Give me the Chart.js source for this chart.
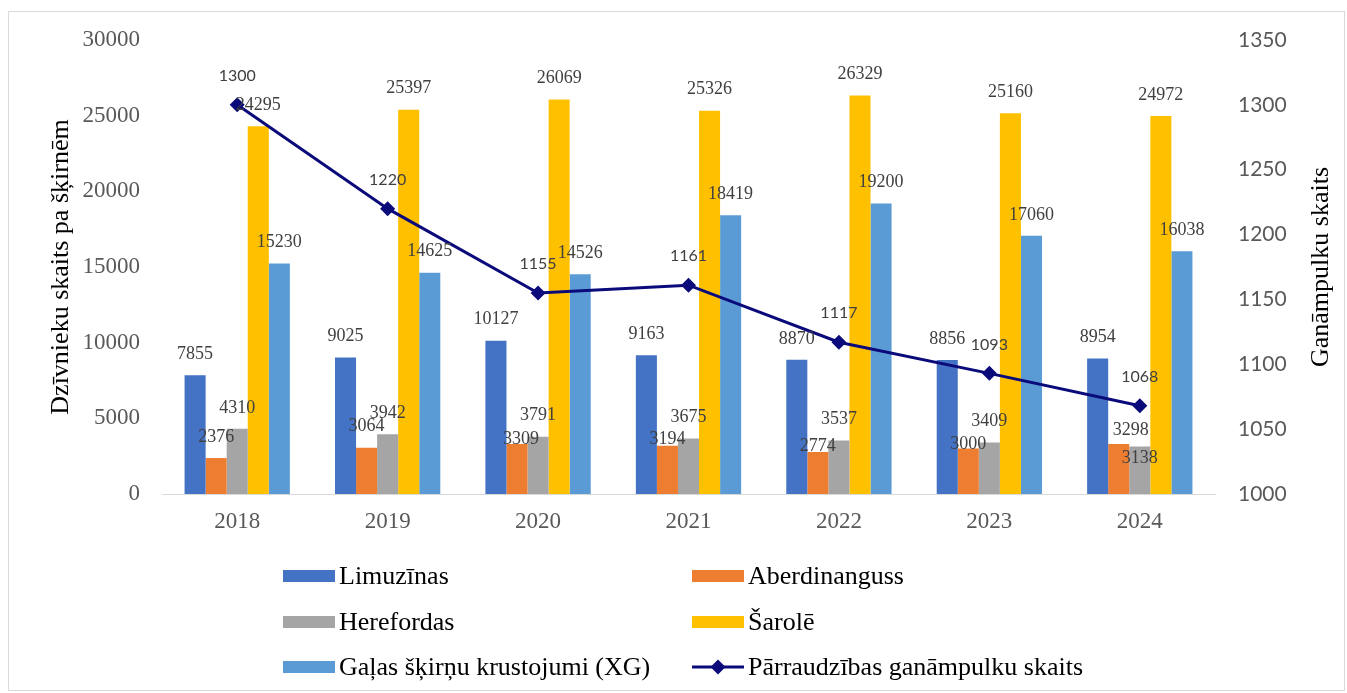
<!DOCTYPE html>
<html>
<head>
<meta charset="utf-8">
<script src="https://cdn.jsdelivr.net/npm/chart.js@4.4.1/dist/chart.umd.min.js"></script>
<style>
  html, body { margin: 0; padding: 0; background: #fff; overflow: hidden; }
  #wrap { position: relative; width: 1347px; height: 693px; }
</style>
</head>
<body>
<div id="wrap"><canvas id="c"></canvas></div>
<script>
const categories = ['2018', '2019', '2020', '2021', '2022', '2023', '2024'];
const seriesNames = ['Limuzīnas', 'Aberdinanguss', 'Herefordas', 'Šarolē', 'Gaļas šķirņu krustojumi (XG)', 'Pārraudzības ganāmpulku skaits'];
const limuzinas = [7855, 9025, 10127, 9163, 8870, 8856, 8954];
const aberdinanguss = [2376, 3064, 3309, 3194, 2774, 3000, 3298];
const herefordas = [4310, 3942, 3791, 3675, 3537, 3409, 3138];
const sarole = [24295, 25397, 26069, 25326, 26329, 25160, 24972];
const xg = [15230, 14625, 14526, 18419, 19200, 17060, 16038];
const ganampulki = [1300, 1220, 1155, 1161, 1117, 1093, 1068];
const leftTitle = 'Dzīvnieku skaits pa šķirnēm';
const rightTitle = 'Ganāmpulku skaits';

const SERIF = "'Liberation Serif', 'Times New Roman', serif";
const SANS = "Lato, 'Liberation Sans', sans-serif";
const LINE_COLOR = '#0a0a7a';

// manual nudges of some data labels (as in the original), keyed by series index
const labelNudges = {
  1: { 2: [4, 16], 3: [0, 15], 4: [0, 15], 5: [0, 17], 6: [12, 7] },
  2: { 6: [0, 33] }
};

const borderPlugin = {
  id: 'frame',
  beforeDraw(chart) {
    const ctx = chart.ctx;
    ctx.save();
    ctx.fillStyle = '#fff';
    ctx.fillRect(0, 0, chart.width, chart.height);
    ctx.strokeStyle = '#d9d9d9';
    ctx.lineWidth = 1;
    ctx.strokeRect(8.5, 11.5, 1336, 679);
    ctx.restore();
  }
};

const labelPlugin = {
  id: 'valueLabels',
  afterDatasetsDraw(chart) {
    const ctx = chart.ctx;
    ctx.save();
    ctx.textAlign = 'center';
    ctx.textBaseline = 'middle';
    chart.data.datasets.forEach((ds, i) => {
      const meta = chart.getDatasetMeta(i);
      meta.data.forEach((el, j) => {
        const v = ds.data[j];
        if (ds.type === 'line') {
          ctx.font = '16px ' + SANS;
          ctx.fillStyle = '#404040';
          ctx.fillText(String(v), el.x, el.y - 29);
        } else {
          const n = (labelNudges[i] && labelNudges[i][j]) || [0, 0];
          ctx.font = '18px ' + SERIF;
          ctx.fillStyle = '#404040';
          ctx.fillText(String(v), el.x + n[0], el.y - 21 + n[1]);
        }
      });
    });
    ctx.restore();
  }
};

const extrasPlugin = {
  id: 'extras',
  afterDraw(chart) {
    const ctx = chart.ctx;
    const area = chart.chartArea;
    ctx.save();
    ctx.translate(1321, (area.top + area.bottom) / 2);
    ctx.rotate(-Math.PI / 2);
    ctx.font = '26px ' + SERIF;
    ctx.fillStyle = '#000';
    ctx.textAlign = 'center';
    ctx.textBaseline = 'middle';
    ctx.fillText(rightTitle, 0, 0);
    ctx.restore();

    const colX = [283, 692];
    const rowY = [576, 622, 667];
    const boxW = 52, boxH = 12;
    ctx.save();
    ctx.font = '26px ' + SERIF;
    ctx.textBaseline = 'alphabetic';
    ctx.textAlign = 'left';
    chart.data.datasets.forEach((ds, i) => {
      const x = colX[i % 2];
      const y = rowY[Math.floor(i / 2)];
      if (ds.type === 'line') {
        ctx.strokeStyle = ds.borderColor;
        ctx.lineWidth = 3;
        ctx.beginPath();
        ctx.moveTo(x, y);
        ctx.lineTo(x + boxW, y);
        ctx.stroke();
        ctx.fillStyle = ds.borderColor;
        const r = 7.5, cx = x + boxW / 2;
        ctx.beginPath();
        ctx.moveTo(cx, y - r);
        ctx.lineTo(cx + r, y);
        ctx.lineTo(cx, y + r);
        ctx.lineTo(cx - r, y);
        ctx.closePath();
        ctx.fill();
      } else {
        ctx.fillStyle = ds.backgroundColor;
        ctx.fillRect(x, y - boxH / 2, boxW, boxH);
      }
      ctx.fillStyle = '#000';
      ctx.fillText(ds.label, x + boxW + 4, y + 8);
    });
    ctx.restore();
  }
};

const barColors = ['#4472C4', '#ED7D31', '#A5A5A5', '#FFC000', '#5B9BD5'];
const barSeries = [limuzinas, aberdinanguss, herefordas, sarole, xg];

const datasets = barSeries.map((d, i) => ({
  type: 'bar',
  label: seriesNames[i],
  data: d,
  backgroundColor: barColors[i],
  borderWidth: 0,
  yAxisID: 'y',
  order: 1,
  categoryPercentage: 0.7,
  barPercentage: 1.0
}));
datasets.push({
  type: 'line',
  label: seriesNames[5],
  data: ganampulki,
  borderColor: LINE_COLOR,
  backgroundColor: LINE_COLOR,
  borderWidth: 3,
  pointStyle: 'rectRot',
  pointRadius: 7.5,
  pointBackgroundColor: LINE_COLOR,
  pointBorderColor: LINE_COLOR,
  pointBorderWidth: 0,
  tension: 0,
  yAxisID: 'y1',
  order: 0
});

new Chart(document.getElementById('c'), {
  data: { labels: categories, datasets },
  options: {
    responsive: true,
    maintainAspectRatio: false,
    animation: false,
    layout: { padding: { top: 40, left: 0, right: 0, bottom: 0 } },
    plugins: {
      legend: { display: false },
      tooltip: { enabled: false }
    },
    scales: {
      x: {
        type: 'category',
        grid: { display: false, drawTicks: false },
        border: { display: true, color: '#d9d9d9', width: 1 },
        ticks: { font: { family: SERIF, size: 23 }, color: '#595959', padding: 14 },
        afterFit(s) { s.height = 199; }
      },
      y: {
        position: 'left',
        min: 0, max: 30000,
        ticks: { stepSize: 5000, font: { family: SERIF, size: 23 }, color: '#595959', padding: 22, callback: v => String(v) },
        grid: { display: false, drawTicks: false },
        border: { display: false },
        title: { display: true, text: leftTitle, font: { family: SERIF, size: 26 }, color: '#000', padding: { top: 46, bottom: 0 } },
        afterFit(s) { s.width = 162; }
      },
      y1: {
        position: 'right',
        min: 1000, max: 1350,
        ticks: { stepSize: 50, font: { family: SANS, size: 21 }, color: '#595959', padding: 23, callback: v => String(v) },
        grid: { display: false, drawTicks: false },
        border: { display: false },
        afterFit(s) { s.width = 132; }
      }
    }
  },
  plugins: [borderPlugin, labelPlugin, extrasPlugin]
});
</script>
</body>
</html>
